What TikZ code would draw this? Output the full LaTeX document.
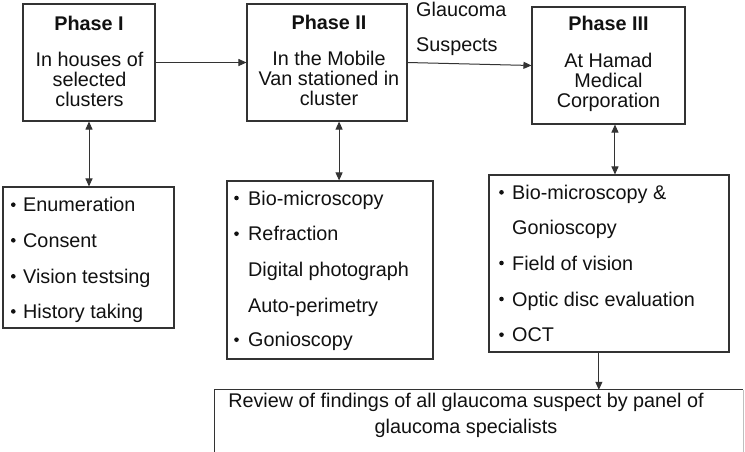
\documentclass[tikz,border=0pt]{standalone}
\usepackage{fontspec}
\setmainfont{Liberation Sans}
\usetikzlibrary{arrows.meta,calc}
\definecolor{linec}{HTML}{333333}
\definecolor{textc}{HTML}{111111}
\tikzset{
  box/.style={draw=linec, line width=1.1pt, rectangle, inner sep=0pt, fill=white},
  txt/.style={anchor=base, inner sep=0pt, text=textc, font=\fontsize{19.8}{20}\selectfont},
  htxt/.style={txt, font=\fontsize{19.8}{20}\selectfont\bfseries},
  ltxt/.style={txt, anchor=base west},
  bul/.style={circle, fill=textc, inner sep=0pt, minimum size=4.6pt},
  arr/.style={draw=linec, line width=1pt, -{Triangle[length=8pt,width=7pt]}},
  darr/.style={draw=linec, line width=1pt, {Triangle[length=8pt,width=7pt]}-{Triangle[length=8pt,width=7pt]}},
}
\begin{document}
\begin{tikzpicture}[x=1pt,y=-1pt]
\clip (0,0) rectangle (745,451);
\fill[white] (0,0) rectangle (745,451);

% phase boxes
\node[box, minimum width=132pt, minimum height=117pt] (p1) at (89,62.5) {};
\node[box, minimum width=160pt, minimum height=117pt] (p2) at (327,62.5) {};
\node[box, minimum width=153pt, minimum height=117pt] (p3) at (608.5,65.5) {};

\node[htxt] (p1h) at (89,30) {Phase I};
\node[txt] (p1a) at (89.5,66.5) {In houses of};
\node[txt] (p1b) at (89.5,86.5) {selected};
\node[txt] (p1c) at (89.5,106.5) {clusters};

\node[htxt] (p2h) at (329,29.5) {Phase II};
\node[txt] (p2a) at (329,65) {In the Mobile};
\node[txt] (p2b) at (329,85) {Van stationed in};
\node[txt] (p2c) at (329,105) {cluster};

\node[htxt] (p3h) at (608.5,30.7) {Phase III};
\node[txt] (p3a) at (608.5,67.7) {At Hamad};
\node[txt] (p3b) at (608.5,87.7) {Medical};
\node[txt] (p3c) at (608.5,107.7) {Corporation};

\node[ltxt] (g1) at (416,16.7) {Glaucoma};
\node[ltxt] (g2) at (416,51.7) {Suspects};

% list boxes
\node[box, minimum width=171pt, minimum height=141pt] (l1) at (88.5,257.5) {};
\node[box, minimum width=206pt, minimum height=178pt] (l2) at (330,270) {};
\node[box, minimum width=240pt, minimum height=177pt] (l3) at (609,263.5) {};

\foreach \y/\t [count=\i] in {211.7/Enumeration, 247.3/Consent, 283.3/Vision testsing, 318.4/History taking}{
  \node[bul] (b1\i) at (13.3,\y-7) {};
  \node[ltxt] (t1\i) at (23,\y) {\t};
}
\foreach \y [count=\i] in {205, 240.7, 346.7}{
  \node[bul] (b2\i) at (236.5,\y-7) {};
}
\node[ltxt] (t21) at (248,205) {Bio-microscopy};
\node[ltxt] (t22) at (248,240.7) {Refraction};
\node[ltxt] (t23) at (248,276) {Digital photograph};
\node[ltxt] (t24) at (248,312.3) {Auto-perimetry};
\node[ltxt] (t25) at (248,346.7) {Gonioscopy};

\foreach \y [count=\i] in {199.3, 270, 306, 341.7}{
  \node[bul] (b3\i) at (501.5,\y-7) {};
}
\node[ltxt] (t31) at (512,199.3) {Bio-microscopy \&};
\node[ltxt] (t32) at (512,234) {Gonioscopy};
\node[ltxt] (t33) at (512,270) {Field of vision};
\node[ltxt] (t34) at (512,306) {Optic disc evaluation};
\node[ltxt] (t35) at (512,341.7) {OCT};

% review box (cut off at the picture's edge)
\node[minimum width=528pt, minimum height=80pt, inner sep=0pt] (rv) at (479,430) {};
\draw[linec, line width=1.1pt] (rv.south west) -- (rv.north west) -- (rv.north east);
\draw[black!25, line width=1pt] (rv.north east) -- (rv.south east);
\node[txt] (r1) at (466,407.5) {Review of findings of all glaucoma suspect by panel of};
\node[txt] (r2) at (466,433) {glaucoma specialists};

% connectors
\draw[arr] (p1.east) -- (p2.west);
\draw[arr] (p2.east) -- (p3.west);
\coordinate (a2) at ($(p2.south west)!0.575!(p2.south east)$);
\coordinate (a3) at ($(p3.south west)!0.542!(p3.south east)$);
\coordinate (a4) at ($(l3.south west)!0.458!(l3.south east)$);
\draw[darr] (p1.south) -- (p1.south |- l1.north);
\draw[darr] (a2) -- (a2 |- l2.north);
\draw[darr] (a3) -- (a3 |- l3.north);
\draw[arr] (a4) -- (a4 |- rv.north);
\end{tikzpicture}
\end{document}
